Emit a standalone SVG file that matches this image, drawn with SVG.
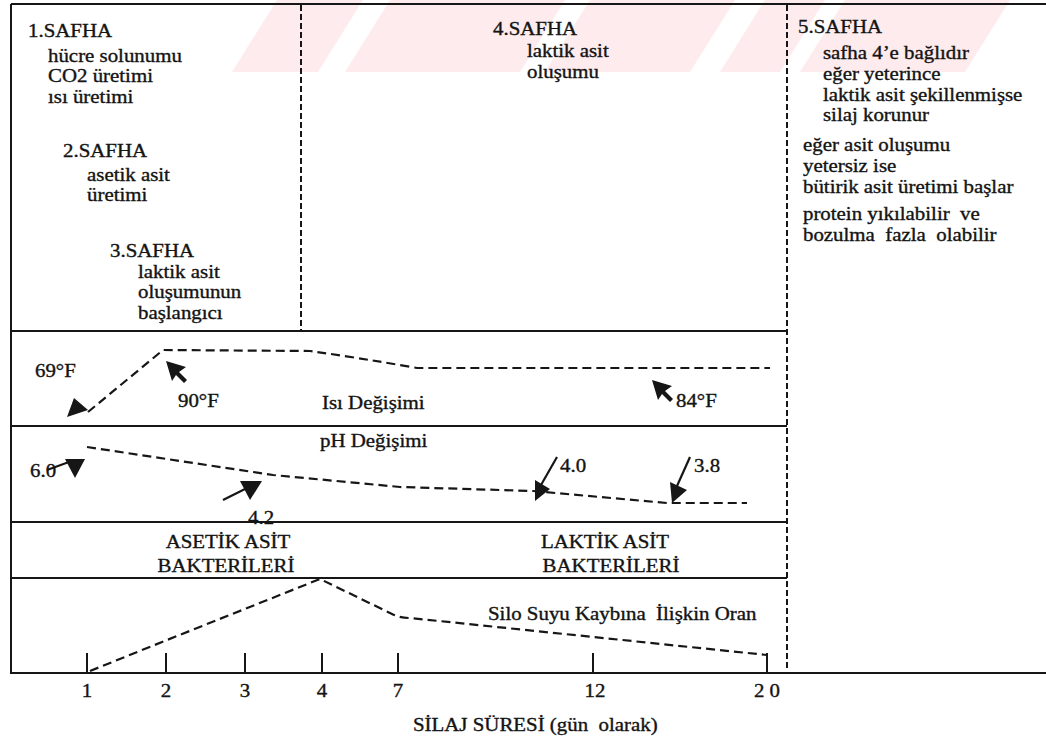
<svg xmlns="http://www.w3.org/2000/svg" width="1046" height="740" viewBox="0 0 1046 740">
<style>
.t{font-family:"Liberation Serif","Times New Roman",serif;font-size:18px;fill:#141414;stroke:#141414;stroke-width:0.35}
.m{text-anchor:middle}
.solid{stroke:#161616;stroke-width:2;fill:none}
.vdash{stroke:#161616;stroke-width:2;fill:none;stroke-dasharray:6 3}
.curve{stroke:#161616;stroke-width:2.2;fill:none;stroke-dasharray:9 5}
.ln{stroke:#161616;stroke-width:2.2;fill:none}
.head{fill:#161616}
.wm{fill:#fdebed}
</style>
<defs>
<path id="cursor" d="M0,0 L20,6 L13,11 L21,19 L18,22 L10,14 L6,20 Z"/>
</defs>
<rect width="1046" height="740" fill="#ffffff"/>
<g id="watermark">
<polygon class="wm" points="232,72 318,72 363,0 277,0"/>
<polygon class="wm" points="345,72 520,72 565,0 390,0"/>
<polygon class="wm" points="545,72 690,72 735,0 590,0"/>
<polygon class="wm" points="720,72 780,72 825,0 765,0"/>
<polygon class="wm" points="800,72 965,72 1010,0 845,0"/>
</g>
<g id="frame">
<line class="solid" x1="11" y1="4" x2="1046" y2="4"/>
<line class="solid" x1="11" y1="4" x2="11" y2="674"/>
<line class="solid" x1="11" y1="673" x2="1046" y2="673"/>
<line class="solid" x1="11" y1="331" x2="787" y2="331"/>
<line class="solid" x1="11" y1="426" x2="787" y2="426"/>
<line class="solid" x1="11" y1="522" x2="787" y2="522"/>
<line class="solid" x1="11" y1="578" x2="787" y2="578"/>
<line class="vdash" x1="301" y1="5" x2="301" y2="331"/>
<line class="vdash" x1="787" y1="5" x2="787" y2="670"/>
</g>
<g transform="scale(1.16 1)">
<g id="phase1">
<text class="t" x="24.14" y="37">1.SAFHA</text>
<text class="t" x="41.38" y="62">hücre solunumu</text>
<text class="t" x="41.38" y="82">CO2 üretimi</text>
<text class="t" x="41.38" y="103">ısı üretimi</text>
</g>
<g id="phase2">
<text class="t" x="54.31" y="157">2.SAFHA</text>
<text class="t" x="75" y="181">asetik asit</text>
<text class="t" x="75" y="201">üretimi</text>
</g>
<g id="phase3">
<text class="t" x="94.83" y="257">3.SAFHA</text>
<text class="t" x="118.97" y="278">laktik asit</text>
<text class="t" x="118.97" y="298">oluşumunun</text>
<text class="t" x="118.97" y="319">başlangıcı</text>
</g>
<g id="phase4">
<text class="t" x="425" y="35">4.SAFHA</text>
<text class="t" x="454.31" y="57">laktik asit</text>
<text class="t" x="454.31" y="78">oluşumu</text>
</g>
<g id="phase5">
<text class="t" x="687.93" y="33">5.SAFHA</text>
<text class="t" x="709.48" y="59">safha 4’e bağlıdır</text>
<text class="t" x="709.48" y="80">eğer yeterince</text>
<text class="t" x="709.48" y="101">laktik asit şekillenmişse</text>
<text class="t" x="709.48" y="121">silaj korunur</text>
<text class="t" x="692.24" y="151">eğer asit oluşumu</text>
<text class="t" x="692.24" y="172">yetersiz ise</text>
<text class="t" x="692.24" y="193">bütirik asit üretimi başlar</text>
<text class="t" x="692.24" y="220" xml:space="preserve">protein yıkılabilir  ve</text>
<text class="t" x="692.24" y="241" xml:space="preserve">bozulma  fazla  olabilir</text>
</g>
<g id="temperature">
<text class="t" x="30.17" y="377">69°F</text>
<text class="t" x="153.45" y="407">90°F</text>
<text class="t" x="277.59" y="409">Isı Değişimi</text>
<text class="t" x="582.76" y="407">84°F</text>
</g>
<g id="ph">
<text class="t" x="275.86" y="447">pH Değişimi</text>
<text class="t" x="25.86" y="477">6.0</text>
<text class="t" x="213.79" y="524">4.2</text>
<text class="t" x="482.76" y="472">4.0</text>
<text class="t" x="598.28" y="472">3.8</text>
</g>
<g id="bacteria">
<text class="t m" x="196.55" y="548">ASETİK ASİT</text>
<text class="t m" x="194.83" y="572">BAKTERİLERİ</text>
<text class="t m" x="521.55" y="548">LAKTİK ASİT</text>
<text class="t m" x="526.72" y="572">BAKTERİLERİ</text>
</g>
<g id="silo">
<text class="t" x="420.69" y="620" xml:space="preserve">Silo Suyu Kaybına  İlişkin Oran</text>
</g>
<g id="axis-labels">
<text class="t m" x="75" y="697">1</text>
<text class="t m" x="143.10" y="697">2</text>
<text class="t m" x="211.21" y="697">3</text>
<text class="t m" x="277.59" y="697">4</text>
<text class="t m" x="343.10" y="697">7</text>
<text class="t m" x="512.93" y="697">12</text>
<text class="t m" x="661.21" y="697">2 0</text>
<text class="t" x="356.03" y="731" xml:space="preserve">SİLAJ SÜRESİ (gün  olarak)</text>
</g>
</g>
<g id="axis">
<g class="solid">
<line x1="87" y1="653" x2="87" y2="673"/>
<line x1="166" y1="653" x2="166" y2="673"/>
<line x1="245" y1="653" x2="245" y2="673"/>
<line x1="322" y1="653" x2="322" y2="673"/>
<line x1="398" y1="653" x2="398" y2="673"/>
<line x1="593" y1="653" x2="593" y2="673"/>
<line x1="767" y1="653" x2="767" y2="673"/>
</g>
</g>
<g id="connectors">
<path class="curve" d="M88,412 L163,350 L310,351 Q360,358 417,368 L770,368"/>
<polygon class="head" points="67,417 74,398 88,410"/>
<use href="#cursor" class="head" x="166" y="361"/>
<use href="#cursor" class="head" x="652" y="380"/>
<path class="curve" d="M87,447 L273,475 L400,487 L533,491 L667,503 L747,503"/>
<line class="ln" x1="47" y1="470" x2="69" y2="462"/>
<polygon class="head" points="65,459 85,459 75,478"/>
<line class="ln" x1="223" y1="500" x2="245" y2="489"/>
<polygon class="head" points="240,481 262,481 250,500"/>
<line class="ln" x1="557" y1="457" x2="541" y2="485"/>
<polygon class="head" points="535,501 535,480 550,489"/>
<line class="ln" x1="690" y1="457" x2="677" y2="486"/>
<polygon class="head" points="672,503 670,482 687,490"/>
<path class="curve" d="M90,671 L167,640 L320,579 L392,614 Q400,618 410,618 L767,655"/>
</g>
</svg>
